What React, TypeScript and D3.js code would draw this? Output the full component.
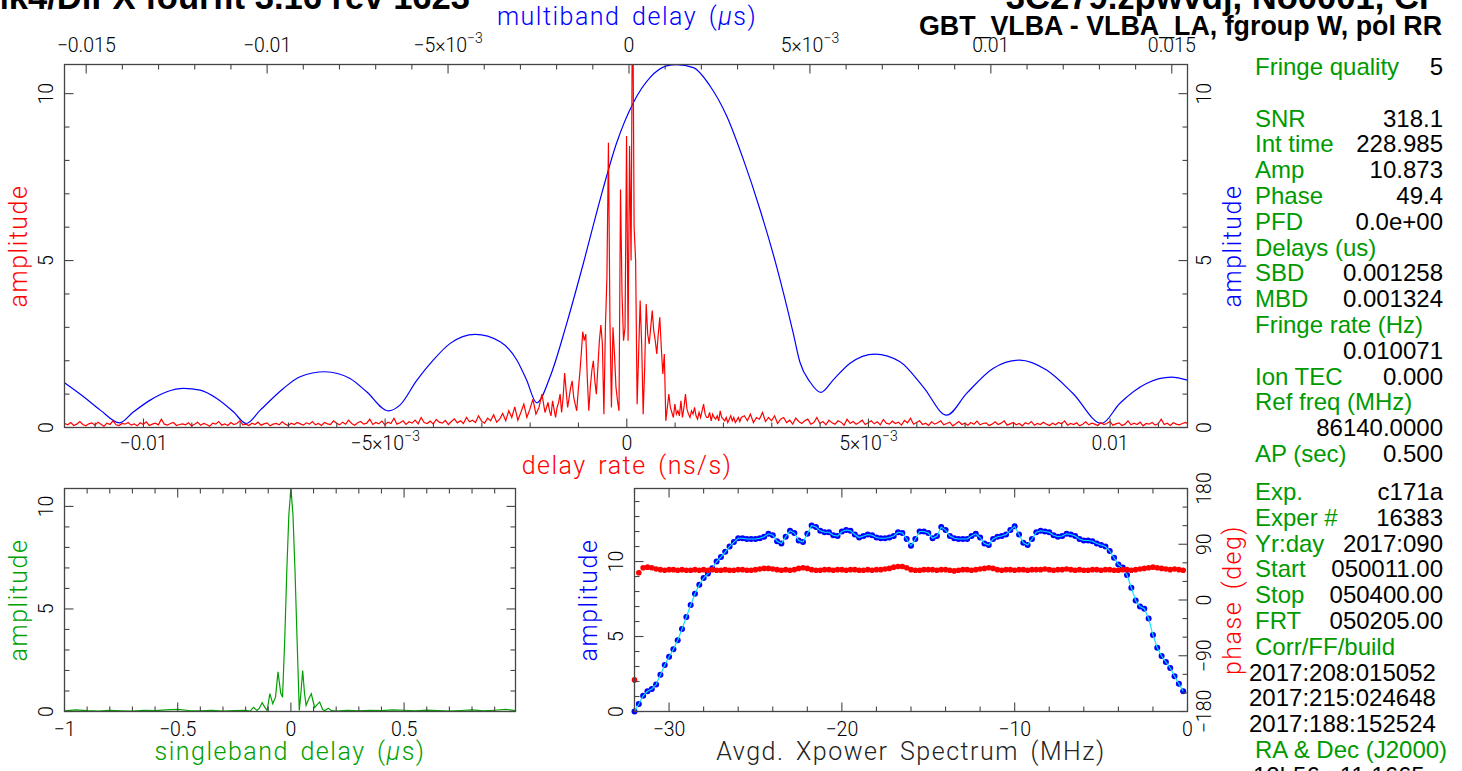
import * as React from "react";
import * as d3 from "d3";

// ---------------- header / fit summary ----------------
const TITLE_LEFT = "Mk4/DiFX fourfit 3.16 rev 1623";
const TITLE_RIGHT = "3C279.zpwvdj, No0001, CP";
const SUBTITLE = "GBT_VLBA - VLBA_LA, fgroup W, pol RR";

const UPPER_LABELS = ["Fringe quality", "", "SNR", "Int time", "Amp", "Phase", "PFD", "Delays (us)", "SBD", "MBD", "Fringe rate (Hz)", "", "Ion TEC", "Ref freq (MHz)", "", "AP (sec)"];
const UPPER_VALUES = ["5", "", "318.1", "228.985", "10.873", "49.4", "0.0e+00", "", "0.001258", "0.001324", "", "0.010071", "0.000", "", "86140.0000", "0.500"];
const LOWER_LABELS = ["Exp.", "Exper #", "Yr:day", "Start", "Stop", "FRT", "Corr/FF/build"];
const LOWER_VALUES = ["c171a", "16383", "2017:090", "050011.00", "050400.00", "050205.00", ""];
const BUILD_LINES = ["2017:208:015052", "2017:215:024648", "2017:188:152524"];
const COORD_LABEL = "RA & Dec (J2000)";
const COORD_LINE = "12h56m11.1665s";

// ---------------- top panel: delay rate (red) + multiband delay (blue) ----------------
const AMP_MAX = 10.873;
const RATE_DOMAIN = [-0.011634, 0.011601]; // ns/s
const MBD_DOMAIN = [-0.015599, 0.015434]; // us

const mbdDelay = [-0.0156, -0.01507, -0.01461, -0.01408, -0.01369, -0.01323, -0.01277, -0.01231, -0.01185, -0.01139, -0.01093, -0.01058, -0.01019, -0.00955, -0.00909, -0.0084, -0.00771, -0.00725, -0.00665, -0.00633, -0.00586, -0.00541, -0.00494, -0.00425, -0.00356, -0.0031, -0.00283, -0.00255, -0.00218, -0.00172, -0.00126, -0.0008, -0.00034, 0.00012, 0.00058, 0.00104, 0.00132, 0.00178, 0.00224, 0.0027, 0.00316, 0.00362, 0.00408, 0.00454, 0.00472, 0.005, 0.0053, 0.00564, 0.0061, 0.0068, 0.00749, 0.00813, 0.00878, 0.00933, 0.01006, 0.0108, 0.01154, 0.01227, 0.01306, 0.01356, 0.0143, 0.01499, 0.01543];
const mbdAmp = [1.34, 0.92, 0.52, 0.14, 0.47, 0.82, 1.07, 1.17, 1.12, 0.87, 0.47, 0.12, 0.52, 1.17, 1.52, 1.67, 1.47, 1.07, 0.5, 0.67, 1.42, 2.02, 2.52, 2.79, 2.57, 2.02, 1.42, 0.74, 1.52, 3.12, 4.92, 6.82, 8.53, 9.73, 10.48, 10.83, 10.87, 10.78, 10.23, 9.33, 8.03, 6.53, 4.82, 2.82, 1.97, 1.37, 1.05, 1.42, 1.92, 2.2, 1.97, 1.22, 0.37, 1.02, 1.77, 2.02, 1.72, 1.02, 0.12, 0.72, 1.32, 1.51, 1.42];

// delay-rate spectrum, coarse sampling on the wings, fine sampling near the peak
const RATE_START = -0.01163;
const RATE_STEP_COARSE = 0.0000625;
const RATE_STEP_FINE = 0.00003125;
const rateLeft = [
  .12, .08, .15, .06, .1, .18, .09, .05, .11, .14, .07, .16, .1, .04, .13, .09, .2, .08, .06, .12,
  .1, .15, .07, .11, .05, .14, .09, .17, .06, .1, .13, .08, .25, .1, .07, .12, .15, .06, .09, .11,
  .08, .14, .05, .1, .16, .07, .12, .09, .04, .13, .1, .18, .07, .11, .06, .15, .09, .12, .2, .08,
  .1, .06, .13, .09, .16, .07, .11, .14, .05, .1, .12, .08, .17, .1, .06, .13, .09, .15, .11, .07,
  .14, .1, .18, .08, .12, .06, .15, .11, .09, .2, .13, .08, .16, .1, .22, .12, .07, .14, .18, .1,
  .13, .25, .09, .15, .11, .19, .08, .16, .12, .28, .1, .14, .2, .09, .17, .13, .22, .11, .3, .15,
  .12, .19, .1, .24, .16, .13, .21, .09, .18, .26, .14, .2, .12, .3, .17, .22, .15, .35, .19, .13,
  .28, .2, .38, .16, .25, .42, .2, .5, .3, .62, .22, .45, .7, .3, .55, .85, .4, .6, 1.0, .45, .75,
];
const rateCenter = [
  .5, .35, .8, .55, .3, .6, .75, 1.0, .45, .9, 1.63, 1.1, .6, .9, 1.2, 1.4, .9, .7, .5, 1.1,
  1.6, 2.2, 2.87, 2.6, 2.8, 1.5, .5, 1.2, 1.7, 2.0, 1.4, 1.0, 1.8, 2.6, 3.07, 2.5, .4, 3.0, 4.5, 8.53,
  3.2, .6, 3.0, 2.2, 1.2, .8, .5, 7.13, 4.0, 2.6, 3.0, 8.73, 2.6, 8.43, 5.0, 14, 6.0, 5.0, .7, 2.2,
  3.8, 2.5, .4, 1.8, 3.7, 2.8, 2.5, 3.0, 3.5, 2.9, 2.6, 2.2, 2.8, 3.3, 2.4, 1.6, 2.2, .2, .6, 1.0,
  .6, .45, .3, .7, .4, .5, .35, .8, .3, .6, 1.0, .55, .4, .3, .5, .4, .6, .35, .25, .45,
  .3, .5, .7, .4, .3, .3, .45, .2, .4, .3, .25, .35, .2, .5, .3, .25, .2, .3, .15, .25,
  .35, .2, .3, .15, .22, .3, .18, .3,
];
const rateRight = [
  .35, .2, .4, .15, .3, .25, .45, .18, .3, .2, .35, .12, .25, .3, .15, .22, .1, .28, .18, .12,
  .2, .25, .1, .15, .3, .12, .18, .08, .22, .14, .1, .2, .16, .07, .25, .12, .18, .1, .15, .22,
  .09, .14, .2, .11, .17, .08, .24, .13, .1, .19, .12, .16, .07, .21, .14, .28, .1, .15, .2, .09,
  .13, .06, .17, .1, .14, .2, .08, .12, .16, .05, .11, .18, .09, .13, .07, .15, .1, .19, .08, .12,
  .14, .06, .1, .17, .09, .13, .2, .07, .11, .15, .08, .12, .05, .14, .1, .18, .07, .12, .09, .16,
  .1, .06, .13, .08, .15, .11, .2, .07, .12, .09, .14, .05, .1, .17, .08, .13, .1, .06, .15, .09,
  .12, .18, .07, .11, .14, .06, .1, .2, .08, .13, .09, .16, .05, .12, .1, .15, .07, .11, .25, .09,
  .13, .06, .14, .1, .08, .12, .15, .1,
];

// ---------------- bottom-left: singleband delay ----------------
const SBD_DOMAIN = [-1, 0.992];
const sbdDelay = [-1, -0.95, -0.9, -0.85, -0.8, -0.75, -0.7, -0.65, -0.6, -0.55, -0.5, -0.45, -0.4, -0.35, -0.3, -0.25, -0.2, -0.18, -0.165, -0.15, -0.14, -0.127, -0.115, -0.105, -0.093, -0.08, -0.068, -0.057, -0.045, -0.037, -0.027, -0.018, -0.009, 0, 0.009, 0.018, 0.027, 0.037, 0.045, 0.052, 0.06, 0.067, 0.078, 0.09, 0.098, 0.105, 0.117, 0.127, 0.14, 0.15, 0.165, 0.18, 0.2, 0.25, 0.3, 0.35, 0.4, 0.45, 0.5, 0.55, 0.6, 0.65, 0.7, 0.75, 0.8, 0.85, 0.9, 0.95, 0.99];
const sbdAmp = [0.03, 0.08, 0.04, 0.02, 0.05, 0.03, 0.02, 0.06, 0.04, 0.08, 0.1, 0.05, 0.03, 0.06, 0.02, 0.04, 0.05, 0.02, 0.2, 0.05, 0.15, 0.43, 0.2, 0.05, 0.87, 0.38, 0.7, 1.93, 0.9, 0.7, 3.6, 6.9, 9.6, 10.87, 9.6, 6.9, 3.6, 0.05, 1.0, 2.0, 0.9, 0.3, 0.6, 0.87, 0.5, 0.2, 0.35, 0.46, 0.1, 0.05, 0.16, 0.04, 0.02, 0.05, 0.03, 0.06, 0.04, 0.08, 0.06, 0.03, 0.07, 0.04, 0.02, 0.05, 0.08, 0.03, 0.06, 0.1, 0.04];

// ---------------- bottom-right: averaged cross-power spectrum ----------------
const XP_START = -32; // MHz
const XP_STEP = 0.25;
const XP_AMP_MAX = 14.87;
const xpAmp = [
  0.0, 0.5, 1.05, 1.35, 1.5, 1.8, 2.45, 3.1, 3.65, 4.15, 4.75, 5.5, 6.3, 7.1, 7.85, 8.45, 8.9, 9.2, 9.55, 10.0,
  10.3, 10.65, 11.0, 11.3, 11.55, 11.55, 11.5, 11.5, 11.5, 11.55, 11.65, 11.85, 11.75, 11.35, 11.2, 11.65, 12.05, 11.9, 11.4, 11.3,
  11.85, 12.4, 12.3, 12.05, 11.95, 11.95, 11.75, 11.7, 12.0, 12.1, 12.05, 11.8, 11.6, 11.7, 11.8, 11.75, 11.6, 11.55, 11.55, 11.6,
  11.7, 11.95, 11.9, 11.5, 11.05, 11.5, 12.0, 12.0, 11.9, 11.55, 11.7, 12.3, 12.1, 11.7, 11.55, 11.5, 11.5, 11.5, 11.7, 11.85,
  11.6, 11.2, 11.1, 11.5, 11.65, 11.7, 11.8, 12.1, 12.35, 11.8, 11.25, 11.1, 11.5, 11.95, 12.05, 12.0, 11.95, 11.75, 11.65, 11.7,
  11.85, 11.8, 11.7, 11.5, 11.4, 11.4, 11.35, 11.2, 11.1, 11.0, 10.7, 10.25, 9.8, 9.6, 9.1, 8.25, 7.4, 7.0, 6.85, 6.2,
  5.1, 4.25, 3.7, 3.3, 2.9, 2.35, 1.85, 1.35,
];
const xpPhase = [
  -129, 44, 52, 53, 52, 50, 49, 48, 49, 49,
  48, 49, 48, 48, 49, 48, 49, 48, 49, 48,
  48, 49, 48, 48, 49, 49, 48, 48, 49, 50,
  51, 51, 50, 49, 48, 49, 48, 49, 51, 52,
  51, 49, 48, 48, 49, 49, 48, 49, 49, 48,
  49, 49, 48, 48, 49, 48, 49, 49, 50, 51,
  53, 54, 54, 52, 49, 48, 48, 49, 49, 49,
  48, 49, 49, 48, 47, 48, 49, 49, 48, 49,
  50, 51, 52, 51, 49, 48, 49, 49, 48, 49,
  49, 48, 49, 49, 49, 50, 49, 48, 49, 49,
  50, 49, 48, 49, 48, 48, 49, 49, 48, 49,
  49, 48, 48, 49, 49, 48, 49, 50, 51, 52,
  53, 52, 51, 50, 49, 50, 49, 48,
];

// ---------------- styling ----------------
const W = 1462;
const H = 771;
const PG = "Roboto, 'DejaVu Sans', sans-serif";
const HELV = "'Liberation Sans', Arial, Helvetica, sans-serif";
const AXIS = "#454545";
const RED = "#ff0000";
const BLUE = "#0000ff";
const GREEN = "#00a000";
const PANEL_GREEN = "#009a00";
const MAJ = 9;
const MIN = 5;
const TICK_FS = 19.5;
const LABEL_FS = 25;

type Box = { l: number; r: number; t: number; b: number };
type Side = "top" | "bottom" | "left" | "right";

function tickLines(key: string, vals: number[], pos: (v: number) => number, isMajor: (v: number) => boolean, side: Side, box: Box) {
  return vals.map((v, i) => {
    const p = pos(v);
    const len = isMajor(v) ? MAJ : MIN;
    let x1 = p, x2 = p, y1 = box.b, y2 = box.b - len;
    if (side === "top") { y1 = box.t; y2 = box.t + len; }
    if (side === "left") { x1 = box.l; x2 = box.l + len; y1 = y2 = p; }
    if (side === "right") { x1 = box.r; x2 = box.r - len; y1 = y2 = p; }
    return <line key={`${key}${i}`} x1={x1} y1={y1} x2={x2} y2={y2} stroke={AXIS} strokeWidth={1.1} />;
  });
}

function tickText(v: number) {
  const neg = v < 0 ? "\u2212" : "";
  const a = Math.abs(v);
  if (a === 0) return "0";
  if (Math.abs(a - 0.005) < 1e-9) {
    return [
      <tspan key="m">{neg}5{"\u00d7"}10</tspan>,
      <tspan key="e" dy={-9} fontSize={14}>{"\u2212"}3</tspan>,
    ];
  }
  return neg + String(+a.toFixed(4));
}

function rotLabel(key: string, x: number, y: number, text: string, fs = TICK_FS) {
  return (
    <text key={key} transform={`translate(${x},${y}) rotate(-90)`} textAnchor="middle" dominantBaseline="central" fontSize={fs} fill="#000">
      {text}
    </text>
  );
}

function frameRect(box: Box) {
  return <rect x={box.l} y={box.t} width={box.r - box.l} height={box.b - box.t} fill="none" stroke={AXIS} strokeWidth={1.3} />;
}

export default function App() {
  // ---- top panel ----
  const top: Box = { l: 64.5, r: 1187.5, t: 64.5, b: 427.5 };
  const xRate = d3.scaleLinear().domain(RATE_DOMAIN).range([top.l, top.r]);
  const xMbd = d3.scaleLinear().domain(MBD_DOMAIN).range([top.l, top.r]);
  const yTop = d3.scaleLinear().domain([0, AMP_MAX]).range([top.b, top.t]);

  const leftEnd = RATE_START + (rateLeft.length - 1) * RATE_STEP_COARSE;
  const centerEnd = leftEnd + rateCenter.length * RATE_STEP_FINE;
  const ratePts: [number, number][] = [
    ...rateLeft.map((v, i) => [RATE_START + i * RATE_STEP_COARSE, v] as [number, number]),
    ...rateCenter.map((v, i) => [leftEnd + (i + 1) * RATE_STEP_FINE, v] as [number, number]),
    ...rateRight.map((v, i) => [centerEnd + (i + 1) * RATE_STEP_COARSE, v] as [number, number]),
  ];
  const rateLine = d3.line<[number, number]>().x((d) => xRate(d[0])).y((d) => yTop(d[1]));
  const mbdLine = d3
    .line<number>()
    .x((_, i) => xMbd(mbdDelay[i]))
    .y((d) => yTop(d))
    .curve(d3.curveMonotoneX);

  const rateTicks = d3.range(-11, 12).map((k) => k / 1000);
  const mbdTicks = d3.range(-15, 16).map((k) => k / 1000);
  const ampTicks = d3.range(0, 11);
  const milliMajor = (v: number) => Math.round(v * 1000) % 5 === 0;
  const fiveMajor = (v: number) => Math.round(v) % 5 === 0;

  // ---- bottom-left ----
  const bl: Box = { l: 64.5, r: 515.5, t: 488.5, b: 711.5 };
  const xSbd = d3.scaleLinear().domain(SBD_DOMAIN).range([bl.l, bl.r]);
  const ySbd = d3.scaleLinear().domain([0, AMP_MAX]).range([bl.b, bl.t]);
  const sbdLine = d3.line<number>().x((_, i) => xSbd(sbdDelay[i])).y((d) => ySbd(d));
  const sbdTicks = d3.range(-10, 10).map((k) => k / 10);
  const halfMajor = (v: number) => Math.abs(Math.round(v * 10) % 5) === 0;

  // ---- bottom-right ----
  const br: Box = { l: 634.5, r: 1187.5, t: 488.5, b: 711.5 };
  const xXp = d3.scaleLinear().domain([XP_START, 0]).range([br.l, br.r]);
  const yXpAmp = d3.scaleLinear().domain([0, XP_AMP_MAX]).range([br.b, br.t]);
  const yXpPh = d3.scaleLinear().domain([-180, 180]).range([br.b, br.t]);
  const xpFreq = xpAmp.map((_, k) => XP_START + k * XP_STEP);
  const xpLine = d3.line<number>().x((_, k) => xXp(xpFreq[k])).y((d) => yXpAmp(d));
  const xpTicks = d3.range(-32, 1, 2);
  const xpAmpTicks = d3.range(0, 15);
  const phTicks = d3.range(-180, 181, 30);

  const rows = (labels: string[], values: string[], y0: number) =>
    labels.map((lab, i) => (
      <g key={`${lab}-${i}-${y0}`}>
        {lab && <text x={1255} y={y0 + i * 25.8} fill={PANEL_GREEN}>{lab}</text>}
        {values[i] && <text x={1443} y={y0 + i * 25.8} textAnchor="end" fill="#000">{values[i]}</text>}
      </g>
    ));

  return (
    <svg width={W} height={H} style={{ position: "absolute", left: 0, top: 0, background: "#fff" }} fontFamily={PG} fontWeight={300}>
      <defs>
        <clipPath id="clipTop"><rect x={top.l} y={top.t} width={top.r - top.l} height={top.b - top.t} /></clipPath>
        <clipPath id="clipBl"><rect x={bl.l} y={bl.t} width={bl.r - bl.l} height={bl.b - bl.t} /></clipPath>
      </defs>

      {/* titles */}
      <g fontFamily={HELV} fontWeight="bold" fill="#000">
        <text x={-20} y={9} fontSize={34.6}>{TITLE_LEFT}</text>
        <text x={1442} y={9} fontSize={34.6} textAnchor="end">{TITLE_RIGHT}</text>
        <text x={1442} y={35} fontSize={26.8} textAnchor="end">{SUBTITLE}</text>
      </g>

      {/* ---------- top panel ---------- */}
      <g clipPath="url(#clipTop)" fill="none" strokeWidth={1.2}>
        <path d={mbdLine(mbdAmp) ?? undefined} stroke={BLUE} />
        <path d={rateLine(ratePts) ?? undefined} stroke={RED} strokeLinejoin="miter" />
      </g>
      {frameRect(top)}
      {tickLines("tb", rateTicks, xRate, milliMajor, "bottom", top)}
      {tickLines("tt", mbdTicks, xMbd, milliMajor, "top", top)}
      {tickLines("tl", ampTicks, yTop, fiveMajor, "left", top)}
      {tickLines("tr", ampTicks, yTop, fiveMajor, "right", top)}
      <g fontSize={TICK_FS} textAnchor="middle" fill="#000">
        {rateTicks.filter(milliMajor).map((v) => (
          <text key={`rl${v}`} x={xRate(v)} y={450}>{tickText(v)}</text>
        ))}
        {mbdTicks.filter(milliMajor).map((v) => (
          <text key={`ml${v}`} x={xMbd(v)} y={52}>{tickText(v)}</text>
        ))}
      </g>
      {[0, 5, 10].map((v) => rotLabel(`tyl${v}`, 46.5, yTop(v), String(v)))}
      {[0, 5, 10].map((v) => rotLabel(`tyr${v}`, 1204, yTop(v), String(v)))}
      <g fontSize={LABEL_FS} letterSpacing={1.5} wordSpacing={4}>
        <text x={627} y={25} textAnchor="middle" fill={BLUE}>
          multiband delay (<tspan fontStyle="italic">{"\u00b5"}</tspan>s)
        </text>
        <text x={627} y={474} textAnchor="middle" fill={RED}>delay rate (ns/s)</text>
        <text transform={`translate(27,${(top.t + top.b) / 2}) rotate(-90)`} textAnchor="middle" fill={RED}>amplitude</text>
        <text transform={`translate(1241,${(top.t + top.b) / 2}) rotate(-90)`} textAnchor="middle" fill={BLUE}>amplitude</text>
      </g>

      {/* ---------- bottom-left: singleband delay ---------- */}
      <g clipPath="url(#clipBl)">
        <path d={sbdLine(sbdAmp) ?? undefined} fill="none" stroke={GREEN} strokeWidth={1.2} />
      </g>
      {frameRect(bl)}
      {tickLines("bb", sbdTicks, xSbd, halfMajor, "bottom", bl)}
      {tickLines("bt", sbdTicks, xSbd, halfMajor, "top", bl)}
      {tickLines("bl", ampTicks, ySbd, fiveMajor, "left", bl)}
      {tickLines("br", ampTicks, ySbd, fiveMajor, "right", bl)}
      <g fontSize={TICK_FS} textAnchor="middle" fill="#000">
        {[-1, -0.5, 0, 0.5].map((v) => (
          <text key={`sl${v}`} x={xSbd(v)} y={736}>{tickText(v)}</text>
        ))}
      </g>
      {[0, 5, 10].map((v) => rotLabel(`byl${v}`, 46.5, ySbd(v), String(v)))}
      <g fontSize={LABEL_FS} letterSpacing={1.5} wordSpacing={4} fill={GREEN}>
        <text x={290} y={760} textAnchor="middle">
          singleband delay (<tspan fontStyle="italic">{"\u00b5"}</tspan>s)
        </text>
        <text transform={`translate(27,${(bl.t + bl.b) / 2}) rotate(-90)`} textAnchor="middle">amplitude</text>
      </g>

      {/* ---------- bottom-right: Xpower spectrum ---------- */}
      {xpAmp.map((v, k) => (
        <circle key={`xa${k}`} cx={xXp(xpFreq[k])} cy={yXpAmp(v)} r={3} fill={BLUE} />
      ))}
      <path d={xpLine(xpAmp) ?? undefined} fill="none" stroke="#00e5ff" strokeWidth={1.1} />
      {xpPhase.map((v, k) => (
        <circle key={`xp${k}`} cx={xXp(xpFreq[k])} cy={yXpPh(v)} r={2.8} fill={RED} />
      ))}
      {frameRect(br)}
      {tickLines("xb", xpTicks, xXp, (v) => v % 10 === 0, "bottom", br)}
      {tickLines("xt", xpTicks, xXp, (v) => v % 10 === 0, "top", br)}
      {tickLines("xl", xpAmpTicks, yXpAmp, fiveMajor, "left", br)}
      {tickLines("xr", phTicks, yXpPh, (v) => v % 90 === 0, "right", br)}
      <g fontSize={TICK_FS} textAnchor="middle" fill="#000">
        {[-30, -20, -10, 0].map((v) => (
          <text key={`fl${v}`} x={xXp(v)} y={736}>{tickText(v)}</text>
        ))}
      </g>
      {[0, 5, 10].map((v) => rotLabel(`xyl${v}`, 616.5, yXpAmp(v), String(v)))}
      {[-180, -90, 0, 90, 180].map((v) => rotLabel(`xyr${v}`, 1204, yXpPh(v), v < 0 ? `\u2212${-v}` : String(v)))}
      <g fontSize={LABEL_FS} letterSpacing={1.5} wordSpacing={4}>
        <text x={(br.l + br.r) / 2} y={760} textAnchor="middle" fill="#222">Avgd. Xpower Spectrum (MHz)</text>
        <text transform={`translate(597,${(br.t + br.b) / 2}) rotate(-90)`} textAnchor="middle" fill={BLUE}>amplitude</text>
        <text transform={`translate(1241,${(br.t + br.b) / 2}) rotate(-90)`} textAnchor="middle" fill={RED}>phase (deg)</text>
      </g>

      {/* ---------- fit summary ---------- */}
      <g fontFamily={HELV} fontWeight="normal" fontSize={24}>
        {rows(UPPER_LABELS, UPPER_VALUES, 75)}
        {rows(LOWER_LABELS, LOWER_VALUES, 500)}
        {BUILD_LINES.map((s, i) => (
          <text key={s} x={1249} y={500 + (7 + i) * 25.8} fill="#000">{s}</text>
        ))}
        <text x={1255} y={500 + 10 * 25.8} fill={PANEL_GREEN}>{COORD_LABEL}</text>
        <text x={1253} y={500 + 11 * 25.8} fill="#000">{COORD_LINE}</text>
      </g>
    </svg>
  );
}
